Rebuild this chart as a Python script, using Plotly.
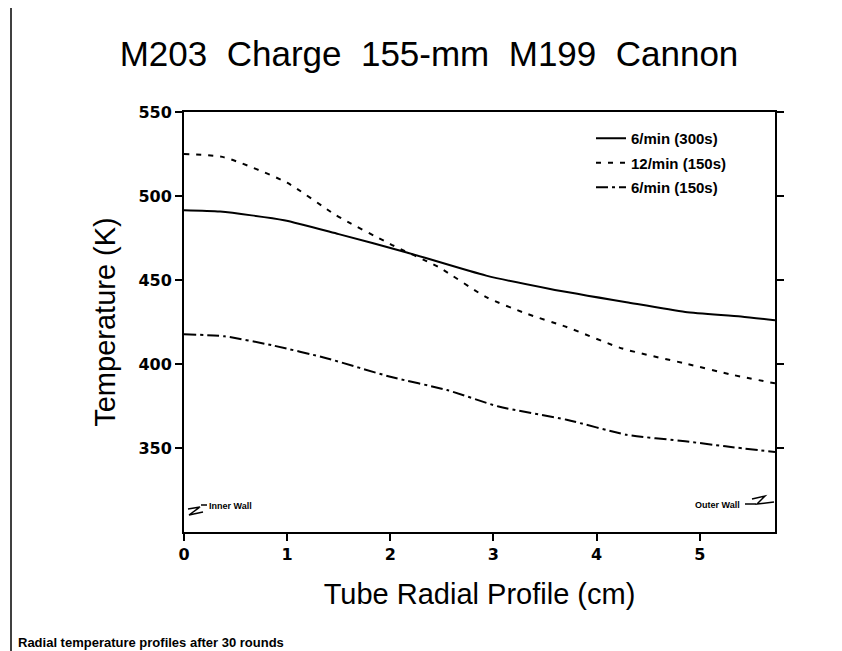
import plotly.graph_objects as go

# ---- data ----
x_6min_300 = [0, 0.35, 0.97, 1.5, 2.16, 2.93, 3.55, 4.29, 4.86, 5.4, 5.73]
y_6min_300 = [491.5, 490.7, 485.6, 477.3, 466.4, 452.6, 444.7, 436.8, 431.0, 428.3, 426.0]

x_12min_150 = [0, 0.39, 1.0, 1.47, 2.0, 2.47, 2.93, 3.32, 3.71, 4.25, 4.86, 5.33, 5.73]
y_12min_150 = [525.0, 523.0, 507.9, 488.7, 471.4, 457.6, 439.8, 430.0, 422.0, 409.2, 400.3, 393.4, 388.5]

x_6min_150 = [0, 0.39, 0.85, 1.39, 2.0, 2.55, 3.05, 3.71, 4.29, 4.86, 5.25, 5.73]
y_6min_150 = [417.7, 416.5, 411.2, 403.3, 392.4, 384.5, 374.7, 366.8, 357.9, 354.0, 351.0, 347.6]

series_names = ["6/min (300s)", "12/min (150s)", "6/min (150s)"]
x_ticks = [0, 1, 2, 3, 4, 5]
y_ticks = [350, 400, 450, 500, 550]

W, H = 842, 651
L, R, T, B = 176, 75, 104, 127
PW, PH = W - L - R, H - T - B
FONT = "Liberation Sans, Arial, sans-serif"


def px(p):
    return (p - L) / PW


def py(p):
    return (H - B - p) / PH


fig = go.Figure()
styles = [dict(dash="solid"), dict(dash="5px,7px"), dict(dash="12px,4px,3px,4px")]
for i, (xs, ys) in enumerate([(x_6min_300, y_6min_300), (x_12min_150, y_12min_150), (x_6min_150, y_6min_150)]):
    fig.add_trace(go.Scatter(
        x=xs, y=ys, mode="lines", name=series_names[i], legendgroup=str(i),
        line=dict(color="black", width=2, shape="spline", smoothing=0.6, **styles[i]),
    ))

NB = "\u00a0"
title_text = (NB * 2).join(["M203", "Charge", "155-mm", "M199", "Cannon"])

fig.update_layout(
    width=W, height=H,
    margin=dict(l=L, r=R, t=T, b=B),
    paper_bgcolor="white", plot_bgcolor="white",
    showlegend=True,
    title=dict(text=title_text, x=0.5, xanchor="center",
               y=1 - 46 / H, yanchor="middle", yref="container",
               font=dict(family=FONT, size=35, color="black")),
    legend=dict(x=px(724), y=py(114), xanchor="right", yanchor="top",
                bgcolor="rgba(0,0,0,0)", tracegroupgap=2,
                font=dict(family=FONT, size=15, color="black", weight="bold")),
    font=dict(family=FONT, color="black"),
)

fig.update_xaxes(
    range=[0, 5.73], tickvals=x_ticks, ticktext=[str(v) for v in x_ticks],
    showgrid=False, zeroline=False, showline=True, linecolor="black", linewidth=2,
    mirror=True, ticks="outside", ticklen=7, tickwidth=2, tickcolor="black",
    tickfont=dict(family="DejaVu Sans, sans-serif", size=16, color="black", weight="bold"),
    title=dict(text="Tube Radial Profile (cm)", standoff=20,
               font=dict(family=FONT, size=29, color="black")),
)
fig.update_yaxes(
    range=[300, 550], tickvals=y_ticks, ticktext=[str(v) for v in y_ticks],
    showgrid=False, zeroline=False, showline=True, linecolor="black", linewidth=2,
    mirror="allticks", ticks="outside", ticklen=7, tickwidth=2, tickcolor="black",
    tickfont=dict(family="DejaVu Sans, sans-serif", size=16, color="black", weight="bold"),
    title=dict(text="Temperature (K)", standoff=14,
               font=dict(family=FONT, size=29, color="black")),
)

# wall labels
fig.add_annotation(x=px(199), y=py(498), xref="paper", yref="paper", text="Inner Wall",
                   showarrow=False, xanchor="left", yanchor="middle",
                   font=dict(family=FONT, size=9, color="black", weight="bold"))
fig.add_annotation(x=px(734), y=py(497), xref="paper", yref="paper", text="Outer Wall",
                   showarrow=False, xanchor="right", yanchor="middle",
                   font=dict(family=FONT, size=9, color="black", weight="bold"))


def path(points):
    s = ""
    for k, (a, b) in enumerate(points):
        s += ("M" if k == 0 else " L") + f" {px(a):.5f} {py(b):.5f}"
    return s


# break (zig-zag) symbols
fig.add_shape(type="path", xref="paper", yref="paper",
              path=path([(193, 497), (199, 497)]), line=dict(color="black", width=1.5))
fig.add_shape(type="path", xref="paper", yref="paper",
              path=path([(180, 501), (192, 499), (181, 507), (195, 504)]), line=dict(color="black", width=1.5))
fig.add_shape(type="path", xref="paper", yref="paper",
              path=path([(737, 496), (748, 496)]), line=dict(color="black", width=1.5))
fig.add_shape(type="path", xref="paper", yref="paper",
              path=path([(744, 491), (757, 488), (749, 496), (766, 494)]), line=dict(color="black", width=1.5))

# page frame line on the left
fig.add_shape(type="line", xref="paper", yref="paper", x0=px(3), x1=px(3), y0=py(0), y1=py(651),
              line=dict(color="black", width=1.5))

# caption
fig.add_annotation(x=px(8), y=py(634), xref="paper", yref="paper",
                   text="Radial temperature profiles after 30 rounds",
                   showarrow=False, xanchor="left", yanchor="middle",
                   font=dict(family=FONT, size=13, color="black", weight="bold"))

fig.write_html("out.html")
